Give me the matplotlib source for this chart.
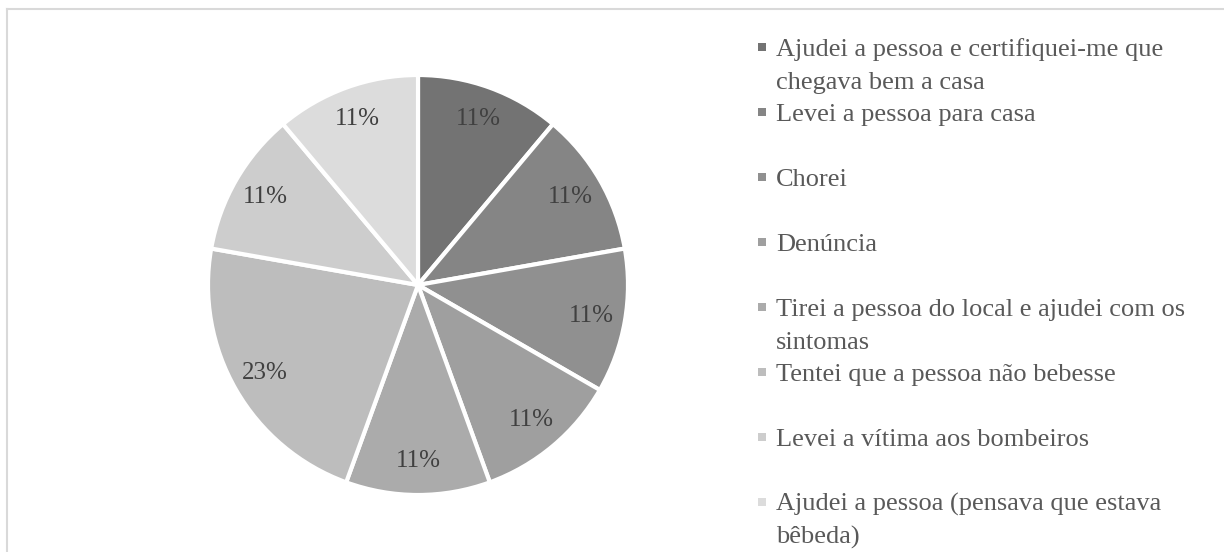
import matplotlib
matplotlib.use("Agg")
import matplotlib.pyplot as plt
from matplotlib.lines import Line2D
from matplotlib.patches import Rectangle

categories = [
    "Ajudei a pessoa e certifiquei-me que\nchegava bem a casa",
    "Levei a pessoa para casa",
    "Chorei",
    "Denúncia",
    "Tirei a pessoa do local e ajudei com os\nsintomas",
    "Tentei que a pessoa não bebesse",
    "Levei a vítima aos bombeiros",
    "Ajudei a pessoa (pensava que estava\nbêbeda)",
]
values = [1, 1, 1, 1, 1, 2, 1, 1]
pct_labels = ["11%", "11%", "11%", "11%", "11%", "23%", "11%", "11%"]
colors = ["#737373", "#858585", "#909090", "#9f9f9f", "#ababab", "#bdbdbd", "#cdcdcd", "#dcdcdc"]

W, H = 1224, 552
fig = plt.figure(figsize=(W / 100, H / 100), dpi=100)
plt.rcParams['font.family'] = ['Liberation Serif', 'DejaVu Serif']

cx, cy, r = 418, 285, 210
ax = fig.add_axes([(cx - r) / W, (H - cy - r) / H, 2 * r / W, 2 * r / H])
wedges, texts, autotexts = ax.pie(
    values, colors=colors, startangle=90, counterclock=False,
    autopct="%1.0f%%", pctdistance=0.84,
    wedgeprops=dict(edgecolor="white", linewidth=3),
    textprops=dict(fontsize=18, color="#404040"),
)
for t, lab in zip(autotexts, pct_labels):
    t.set_text(lab)
ax.set_xlim(-1, 1)
ax.set_ylim(-1, 1)
ax.axis("off")

# border (top and left visible)
fig.add_artist(Line2D([7 / W, 7 / W], [0, 1 - 9 / H], color="#d9d9d9", lw=1.5, transform=fig.transFigure))
fig.add_artist(Line2D([7 / W, 1], [1 - 9 / H, 1 - 9 / H], color="#d9d9d9", lw=1.5, transform=fig.transFigure))

# legend
y0, dy, lh = 47, 65, 33
mx, tx, ms = 758, 776, 8
for i, (lab, col) in enumerate(zip(categories, colors)):
    yc = y0 + i * dy
    fig.add_artist(Rectangle(((mx) / W, 1 - (yc + ms / 2) / H), ms / W, ms / H,
                             facecolor=col, edgecolor="none", transform=fig.transFigure))
    for k, line in enumerate(lab.split("\n")):
        fig.text(tx / W, 1 - (yc + 8.7 + k * lh) / H, line, fontsize=19, color="#595959",
                 ha="left", va="baseline")

fig.savefig("out.png", dpi=100, facecolor="white")
